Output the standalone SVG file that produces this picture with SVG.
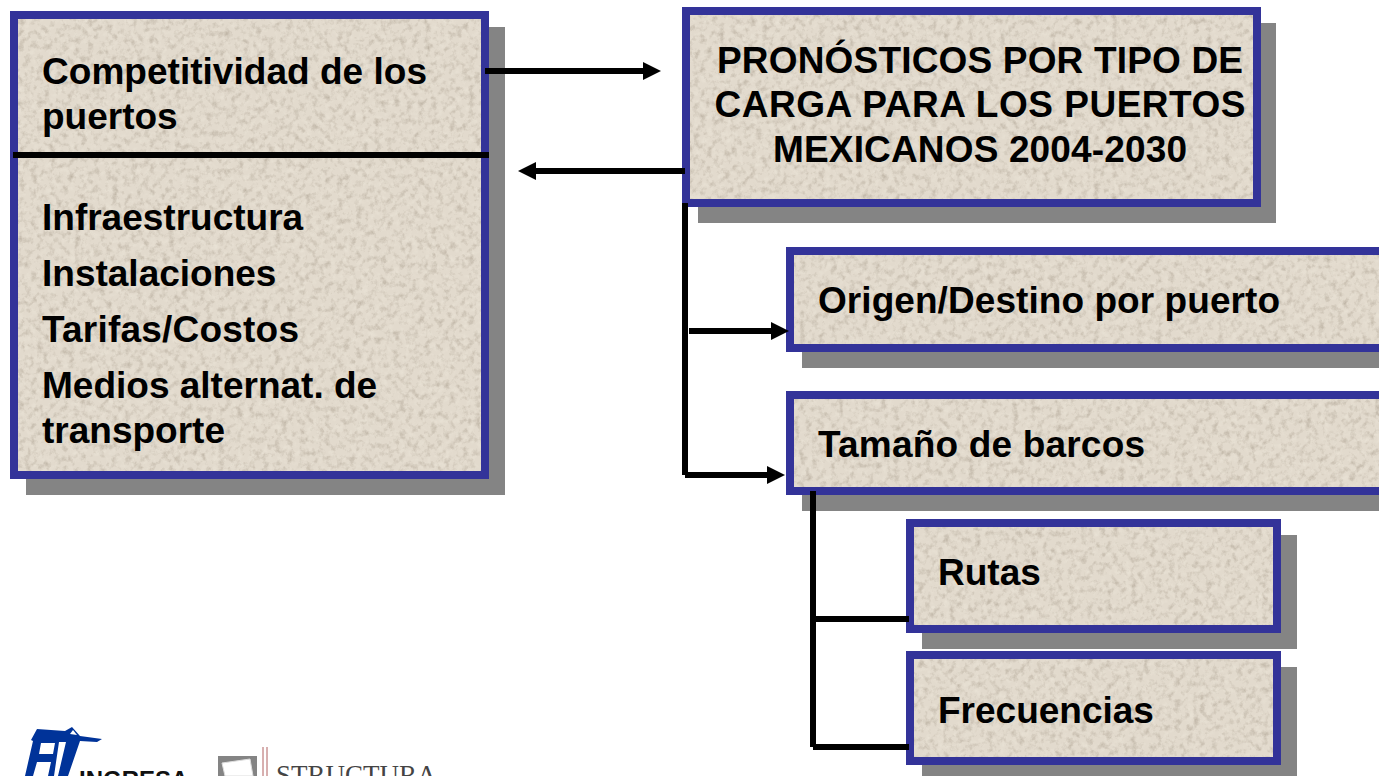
<svg xmlns="http://www.w3.org/2000/svg" width="1379" height="776" viewBox="0 0 1379 776">
<style>
.s{fill:#848484}
.f{fill:#e2dacd;filter:url(#tex)}
.b{fill:none;stroke:#333399;stroke-width:8}
.t{font-family:"Liberation Sans",Arial,sans-serif;font-weight:700;font-size:37px;fill:#000}
.l{fill:none;stroke:#000;stroke-width:6}
</style>
<defs>
<filter id="tex" x="0" y="0" width="100%" height="100%" color-interpolation-filters="sRGB">
<feTurbulence type="fractalNoise" baseFrequency="0.16" numOctaves="4" seed="9" result="n"/>
<feColorMatrix in="n" type="matrix" values="0 0 0 0 0.55  0 0 0 0 0.5  0 0 0 0 0.43  0.9 0 0 0 -0.42" result="d"/>
<feColorMatrix in="n" type="matrix" values="0 0 0 0 0.95  0 0 0 0 0.93  0 0 0 0 0.88  0 0.9 0 0 -0.42" result="w"/>
<feMerge result="m"><feMergeNode in="SourceGraphic"/><feMergeNode in="d"/><feMergeNode in="w"/></feMerge>
<feComposite in="m" in2="SourceAlpha" operator="in"/>
</filter>
<marker id="a" markerUnits="userSpaceOnUse" markerWidth="18" markerHeight="18" refX="2" refY="9" orient="auto" viewBox="0 0 18 18"><path d="M0 0L18 9L0 18Z" fill="#000"/></marker>
</defs>
<g id="node-competitividad">
<rect class="s" x="26" y="27" width="479" height="468"/>
<rect class="f" x="14" y="15" width="471" height="460"/>
<rect class="b" x="14" y="15" width="471" height="460"/>
<text class="t" x="42" y="84" textLength="385">Competitividad de los</text>
<text class="t" x="42" y="129">puertos</text>
<text class="t" x="42" y="230">Infraestructura</text>
<text class="t" x="42" y="286">Instalaciones</text>
<text class="t" x="42" y="342" textLength="257">Tarifas/Costos</text>
<text class="t" x="42" y="398">Medios alternat. de</text>
<text class="t" x="42" y="443">transporte</text>
</g>
<g id="node-pronosticos">
<rect class="s" x="698" y="23" width="578" height="200"/>
<rect class="f" x="686" y="11" width="571" height="192"/>
<rect class="b" x="686" y="11" width="571" height="192"/>
<text class="t" x="717" y="73" textLength="526">PRONÓSTICOS POR TIPO DE</text>
<text class="t" x="714.500" y="117" textLength="531">CARGA PARA LOS PUERTOS</text>
<text class="t" x="773" y="162" textLength="414">MEXICANOS 2004-2030</text>
</g>
<g id="node-origen">
<rect class="s" x="802" y="263" width="600" height="105"/>
<rect class="f" x="790" y="251" width="600" height="97"/>
<rect class="b" x="790" y="251" width="600" height="97"/>
<text class="t" x="818" y="313" textLength="462">Origen/Destino por puerto</text>
</g>
<g id="node-tamano">
<rect class="s" x="802" y="407" width="600" height="104"/>
<rect class="f" x="790" y="395" width="600" height="96"/>
<rect class="b" x="790" y="395" width="600" height="96"/>
<text class="t" x="818" y="457" textLength="327">Tamaño de barcos</text>
</g>
<g id="node-rutas">
<rect class="s" x="922" y="535" width="375" height="114"/>
<rect class="f" x="910" y="523" width="367" height="106"/>
<rect class="b" x="910" y="523" width="367" height="106"/>
<text class="t" x="938" y="585">Rutas</text>
</g>
<g id="node-frecuencias">
<rect class="s" x="922" y="667" width="375" height="114"/>
<rect class="f" x="910" y="655" width="367" height="106"/>
<rect class="b" x="910" y="655" width="367" height="106"/>
<text class="t" x="938" y="723">Frecuencias</text>
</g>
<g id="connectors">
<path class="l" d="M13 155H489"/>
<path class="l" d="M485 71H645" marker-end="url(#a)"/>
<path class="l" d="M685 171H534" marker-end="url(#a)"/>
<path class="l" d="M685 203V475"/>
<path class="l" d="M689 331H773" marker-end="url(#a)"/>
<path class="l" d="M685 475H769" marker-end="url(#a)"/>
<path class="l" d="M813 491V747"/>
<path class="l" d="M813 619H909"/>
<path class="l" d="M813 747H909"/>
</g>
<g id="logo-ingresa">
<path d="M25 776L33 741L31 740L37 729L65 731L72 727L80 736L102 739L97 742L80 741L68 776H58L66 742L59 742L54 776H28Z" fill="#003399"/>
<path d="M41 743H55L53 754H39ZM37 762H51L48 776H33Z" fill="#fff"/>
<path d="M70 734L73 730L77 735Z" fill="#fff"/>
<text x="79" y="788" font-family="Liberation Sans,Arial,sans-serif" font-weight="700" font-size="24" fill="#111">INGRESA</text>
</g>
<g id="logo-structura">
<rect x="218" y="756" width="39" height="20" fill="#848484"/>
<path d="M222 763L250 759L253 776H225Z" fill="#fff" stroke="#ddd" stroke-width="1"/>
<path d="M263 747V776M267 747V776" stroke="#b06060" stroke-width="1" fill="none"/>
<text x="276" y="784" font-family="Liberation Serif,'Times New Roman',serif" font-size="27" fill="#444">STRUCTURA</text>
</g>
</svg>
